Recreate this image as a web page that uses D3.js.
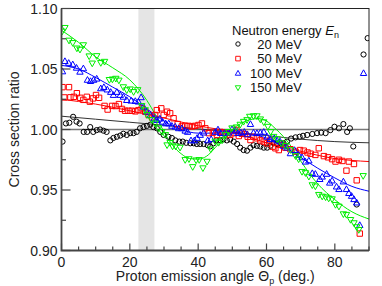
<!DOCTYPE html>
<html lang="en">
<head>
  <meta charset="UTF-8">
  <title>Cross section ratio</title>
  <script src="https://d3js.org/d3.v7.min.js"></script>
  <style>
    body { margin: 0; background: #fff; }
    svg { display: block; font-family: "Liberation Sans", Arial, sans-serif; }
    .tick-label { font-size: 14px; fill: #222; }
    .axis-title { font-size: 14px; fill: #222; }
    .legend text { font-size: 13px; fill: #111; }
  </style>
</head>
<body>
  <svg width="382" height="286"></svg>
  <script>
    // axis ticks
    const xMajor = [0, 20, 40, 60, 80];
    const xMinor = d3.range(0, 91, 5);
    const yMajor = [0.90, 0.95, 1.00, 1.05, 1.10];
    const yMinor = [0.925, 0.975, 1.025, 1.075];
    const band = [22.5, 27.2];

    // 20 MeV (angle, ratio)
    const ang20 = [0.3,1.3,2.3,3.4,4.4,5.3,6.5,7.5,8.4,9.3,10.3,11.3,12.3,13.2,14.3,15.2,16.2,17.2,18.1,19.1,20.1,21.1,22.0,23.0,24.0,25.0,26.0,26.9,27.9,28.9,29.9,31.3,32.3,33.3,34.5,35.5,36.5,37.7,38.7,39.6,40.6,41.6,42.8,43.5,44.5,45.3,46.5,47.4,48.4,49.4,50.4,51.4,52.3,53.3,54.3,55.3,56.2,57.2,58.2,59.2,60.2,61.1,62.1,63.1,64.1,65.0,66.0,67.2,68.5,69.7,70.7,71.9,73.4,74.8,76.0,77.3,78.7,79.9,81.2,82.5,83.6,84.4,85.4,86.4,88.4,89.6];
    const val20 = [0.990,1.005,1.0056,1.0105,1.0065,1.005,0.998,0.998,1.002,0.998,0.9995,1.000,0.999,0.998,0.991,0.993,0.994,0.995,0.9965,0.9955,0.997,0.997,0.998,1.001,1.002,1.003,1.004,1.002,1.001,0.998,0.9955,0.994,0.993,0.991,0.990,0.990,0.989,0.9886,0.9886,0.988,0.988,0.988,0.987,0.986,0.9886,0.991,0.991,0.9918,0.991,0.9918,0.990,0.988,0.985,0.983,0.9825,0.985,0.987,0.9865,0.986,0.985,0.985,0.9865,0.9886,0.988,0.9886,0.9886,0.990,0.9925,0.9935,0.994,0.9948,0.9955,0.9963,0.997,0.9974,0.997,0.9995,1.0023,1.001,1.0045,0.998,1.001,0.986,0.938,1.062,1.0755];

    // 50 MeV
    const ang50 = [0.3,0.8,2.2,2.6,3.6,4.5,5.5,6.4,7.4,8.3,9.2,10.1,11.0,12.6,13.5,14.8,15.8,16.8,17.7,18.6,19.6,20.6,21.6,22.5,23.5,24.5,25.5,26.5,27.4,27.9,29.2,29.9,30.9,31.8,32.8,34.0,35.2,36.2,37.2,38.2,39.1,40.1,41.1,42.1,43.1,44.3,45.5,46.5,47.4,48.6,49.4,50.4,51.2,51.9,52.8,53.7,54.5,55.3,56.2,57.2,58.2,59.2,60.2,61.1,61.8,62.6,63.6,64.4,65.5,67.0,68.5,69.8,70.9,72.0,72.9,74.3,75.3,76.8,78.0,79.2,80.2,81.2,82.2,83.4,84.1,85.6,86.4,87.3];
    const val50 = [1.035,1.0265,1.035,1.0266,1.027,1.030,1.0262,1.0245,1.027,1.023,1.0257,1.0285,1.0262,1.0195,1.0165,1.0195,1.0194,1.021,1.017,1.0155,1.0155,1.0155,1.015,1.016,1.0175,1.0147,1.012,1.010,1.012,1.016,1.0175,1.012,1.0147,1.0134,1.0093,1.0045,1.0025,1.003,1.003,1.0025,1.003,1.0037,1.005,1.001,0.997,0.9974,0.9955,0.998,0.9974,0.9974,0.9955,0.997,0.9996,0.9946,0.9965,0.9963,0.994,0.9913,0.994,0.9927,0.991,0.990,0.9886,0.991,0.9858,0.9845,0.983,0.9873,0.985,0.9837,0.9817,0.983,0.9825,0.981,0.980,0.979,0.9845,0.978,0.977,0.9755,0.9735,0.975,0.974,0.966,0.9735,0.9715,0.958,0.914];

    // 100 MeV
    const ang100 = [0.3,1.0,2.1,3.3,4.4,5.4,6.4,7.6,8.5,9.4,10.3,11.5,12.4,13.4,14.4,15.2,16.2,17.2,18.1,19.1,20.4,21.6,22.5,23.3,24.0,25.0,26.0,27.1,27.9,28.8,29.6,30.5,31.4,32.3,33.3,34.3,35.2,36.2,36.9,37.9,38.9,39.7,40.6,41.6,42.8,43.8,45.0,45.8,46.6,47.7,48.9,49.9,50.9,51.6,52.5,53.5,54.4,55.3,56.2,57.2,58.2,59.2,60.2,61.1,62.3,63.1,64.0,65.0,66.0,67.0,68.2,69.4,70.4,71.4,72.4,73.4,74.3,75.6,76.3,77.6,78.5,79.2,80.5,81.2,82.5,83.4,84.1,84.9,85.6,86.4,87.3,88.4];
    const val100 = [1.048,1.0565,1.055,1.0538,1.051,1.0477,1.0505,1.041,1.040,1.041,1.042,1.034,1.035,1.033,1.031,1.0285,1.031,1.0285,1.027,1.0243,1.0238,1.0235,1.023,1.0266,1.0188,1.0147,1.012,1.009,1.0078,1.009,1.0064,1.005,1.005,1.003,1.0023,1.001,1.001,0.999,0.998,0.991,0.991,0.993,0.9955,0.9974,0.991,0.992,0.998,1.000,0.997,0.997,0.9974,1.0002,0.999,0.997,0.9974,0.998,0.996,1.0045,0.9974,0.997,0.9974,0.998,0.994,0.992,0.9927,0.991,0.990,0.9865,0.985,0.9803,0.983,0.979,0.977,0.9734,0.9743,0.9639,0.9633,0.959,0.961,0.9633,0.956,0.9578,0.9528,0.9507,0.957,0.9507,0.9474,0.9451,0.9424,0.9396,0.921,1.0466];

    // 150 MeV
    const ang150 = [0.2,1.0,2.2,3.3,4.5,5.4,6.4,8.1,9.0,10.3,11.5,12.6,14.0,14.9,15.9,16.8,18.1,19.1,20.1,21.1,22.3,23.5,24.5,25.0,26.4,27.4,28.4,29.4,30.4,30.9,31.8,32.5,33.4,34.7,36.2,37.3,38.4,39.4,40.3,41.4,42.6,43.7,45.0,46.0,47.0,48.0,48.9,49.9,51.2,52.3,53.3,54.3,55.1,56.2,57.2,58.2,59.2,60.4,61.2,62.1,63.1,64.3,65.5,67.0,68.5,69.4,70.4,71.4,72.4,73.4,74.3,75.3,76.3,77.3,78.2,79.2,80.2,81.2,82.5,83.4,84.6,85.6,86.4,87.0,88.3];
    const val150 = [1.081,1.084,1.0735,1.0715,1.067,1.066,1.0697,1.0605,1.0546,1.0607,1.055,1.056,1.041,1.0414,1.042,1.0405,1.035,1.0325,1.0332,1.031,1.0326,1.0194,1.016,1.012,1.0078,1.005,1.001,0.998,0.9955,0.987,0.989,0.986,0.986,0.985,0.9748,0.9755,0.969,0.9745,0.9748,0.968,0.9734,0.9836,0.990,0.989,0.991,0.9955,0.998,1.001,1.0018,1.004,1.0064,1.0078,1.0106,1.011,1.011,1.0084,1.006,1.0023,0.998,0.994,0.992,0.9886,0.9864,0.983,0.978,0.9754,0.965,0.964,0.961,0.954,0.953,0.946,0.9446,0.944,0.943,0.9424,0.9377,0.9363,0.930,0.9295,0.9253,0.9226,0.9193,0.917,0.9616];

    // fitted curves
    const fitAng = [0, 10, 20, 30, 40, 50, 60, 70, 80, 90];
    const fit20 = [1.011, 1.0085, 1.006, 1.0035, 1.0005, 0.998, 0.995, 0.992, 0.990, 0.989];
    const fit50 = [1.025, 1.021, 1.0155, 1.0095, 1.003, 0.998, 0.989, 0.982, 0.976, 0.9735];
    const fitAng100 = [0, 5, 10, 15, 20, 25, 30, 35, 40, 45, 50, 55, 60, 65, 70, 75, 80, 85, 90];
    const fit100 = [1.053, 1.050, 1.043, 1.035, 1.027, 1.017, 1.007, 1.000, 0.997, 0.997, 0.997, 0.996, 0.993, 0.986, 0.977, 0.968, 0.960, 0.953, 0.949];
    const fitAng150 = [0, 5, 10, 15, 20, 25, 27.5, 30, 32.5, 35, 37.5, 40, 42.5, 45, 47.5, 50, 52.5, 55, 57.5, 60, 62.5, 65, 67.5, 70, 75, 80, 85, 90];
    const fit150 = [1.082, 1.072, 1.060, 1.051, 1.041, 1.024, 1.012, 0.998, 0.987, 0.980, 0.976, 0.9755, 0.978, 0.985, 0.993, 1.000, 1.005, 1.008, 1.009, 1.007, 1.001, 0.994, 0.985, 0.974, 0.955, 0.942, 0.932, 0.926];

    const energies = ["20 MeV", "50 MeV", "100 MeV", "150 MeV"];
    const colors = ["#000000", "#ff0000", "#0000ff", "#00ee00"];

    const margin = {left: 61.5, right: 13, top: 8.5, bottom: 35.5};
    const width = 382, height = 286;

    const svg = d3.select("svg");

    const x = d3.scaleLinear().domain([0, 90]).range([margin.left, width - margin.right]);
    const y = d3.scaleLinear().domain([0.90, 1.10]).range([height - margin.bottom, margin.top]);

    svg.append("defs").append("clipPath").attr("id", "clip")
      .append("rect")
      .attr("x", x(0)).attr("y", y(1.10))
      .attr("width", x(90) - x(0)).attr("height", y(0.90) - y(1.10));

    // grey band
    svg.append("rect")
      .attr("x", x(band[0])).attr("y", y(1.10))
      .attr("width", x(band[1]) - x(band[0]))
      .attr("height", y(0.90) - y(1.10))
      .attr("fill", "#e5e5e5");

    const plot = svg.append("g").attr("clip-path", "url(#clip)");

    // reference line at 1
    plot.append("line")
      .attr("x1", x(0)).attr("x2", x(90))
      .attr("y1", y(1)).attr("y2", y(1))
      .attr("stroke", "#777").attr("stroke-width", 1.6);

    const line = d3.line()
      .x(d => x(d[0])).y(d => y(d[1]))
      .curve(d3.curveMonotoneX);

    const fits = [
      d3.zip(fitAng, fit20),
      d3.zip(fitAng, fit50),
      d3.zip(fitAng100, fit100),
      d3.zip(fitAng150, fit150)
    ];
    fits.forEach((f, i) => {
      plot.append("path")
        .attr("d", line(f))
        .attr("fill", "none")
        .attr("stroke", i === 0 ? "#333" : colors[i])
        .attr("stroke-width", 1);
    });

    // marker shapes
    function marker(kind) {
      if (kind === 0) return "M2.6,0A2.6,2.6 0 1,1 -2.6,0A2.6,2.6 0 1,1 2.6,0Z";
      if (kind === 1) return "M-2.7,-2.7H2.7V2.7H-2.7Z";
      if (kind === 2) return "M0,-3.3L3.2,2.4H-3.2Z";
      return "M0,3.3L3.2,-2.4H-3.2Z";
    }

    const series = [
      d3.zip(ang20, val20),
      d3.zip(ang50, val50),
      d3.zip(ang100, val100),
      d3.zip(ang150, val150)
    ];
    series.forEach((s, i) => {
      plot.append("g")
        .selectAll("path")
        .data(s)
        .join("path")
        .attr("d", marker(i))
        .attr("transform", d => `translate(${x(d[0])},${y(d[1])})`)
        .attr("fill", "none")
        .attr("stroke", colors[i])
        .attr("stroke-width", 1);
    });

    // frame
    svg.append("rect")
      .attr("x", x(0)).attr("y", y(1.10))
      .attr("width", x(90) - x(0)).attr("height", y(0.90) - y(1.10))
      .attr("fill", "none").attr("stroke", "#222").attr("stroke-width", 1);
    svg.append("path")
      .attr("d", `M${x(0)},${y(1.10)}V${y(0.90)}H${x(90)}`)
      .attr("fill", "none").attr("stroke", "#444").attr("stroke-width", 1.8);

    // ticks (inward)
    const axes = svg.append("g").attr("stroke", "#444").attr("stroke-width", 1.2);
    xMinor.forEach(t => {
      const len = xMajor.includes(t) ? 7 : 4;
      axes.append("line")
        .attr("x1", x(t)).attr("x2", x(t))
        .attr("y1", y(0.90)).attr("y2", y(0.90) - len);
    });
    yMajor.concat(yMinor).forEach(t => {
      const len = yMajor.includes(t) ? 9 : 4.5;
      axes.append("line")
        .attr("x1", x(0)).attr("x2", x(0) + len)
        .attr("y1", y(t)).attr("y2", y(t));
    });

    svg.append("g").selectAll("text")
      .data(xMajor)
      .join("text")
      .attr("class", "tick-label")
      .attr("x", d => x(d)).attr("y", y(0.90) + 16)
      .attr("text-anchor", "middle")
      .text(d => d);

    svg.append("g").selectAll("text")
      .data(yMajor)
      .join("text")
      .attr("class", "tick-label")
      .attr("x", x(0) - 4).attr("y", d => y(d) + 5)
      .attr("text-anchor", "end")
      .text(d => d.toFixed(2));

    // axis titles
    const xt = svg.append("text")
      .attr("class", "axis-title")
      .attr("x", (x(0) + x(90)) / 2).attr("y", 281)
      .attr("text-anchor", "middle");
    xt.append("tspan").text("Proton emission angle \u0398");
    xt.append("tspan").attr("font-size", "9px").attr("dy", 3).text("p");
    xt.append("tspan").attr("dy", -3).text(" (deg.)");

    svg.append("text")
      .attr("class", "axis-title")
      .attr("transform", `translate(19,${(y(0.90) + y(1.10)) / 2}) rotate(-90)`)
      .attr("text-anchor", "middle")
      .text("Cross section ratio");

    // legend
    const legend = svg.append("g").attr("class", "legend");
    const lt = legend.append("text").attr("x", 232).attr("y", 35);
    lt.append("tspan").text("Neutron energy ");
    lt.append("tspan").attr("font-style", "italic").text("E");
    lt.append("tspan").attr("font-size", "9px").attr("dy", 3).text("n");

    energies.forEach((e, i) => {
      const yy = 44 + i * 14.6;
      legend.append("path")
        .attr("d", marker(i))
        .attr("transform", `translate(238,${yy}) scale(0.85)`)
        .attr("fill", "none")
        .attr("stroke", colors[i])
        .attr("stroke-width", 1.1);
      legend.append("text")
        .attr("x", 302).attr("y", yy + 4.5)
        .attr("text-anchor", "end")
        .text(e);
    });
  </script>
</body>
</html>
